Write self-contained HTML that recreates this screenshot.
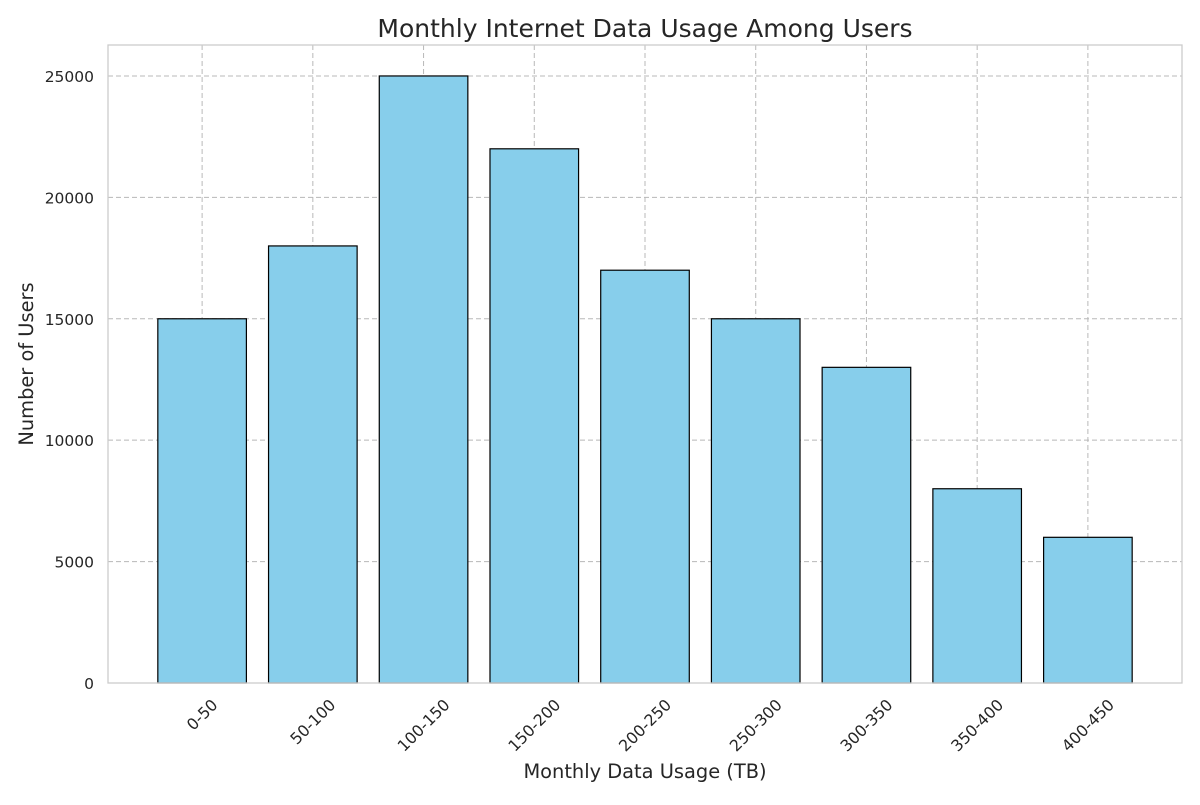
<!DOCTYPE html>
<html><head><meta charset="utf-8"><style>
body{margin:0;background:#fff}
svg text{font-family:"DejaVu Sans","Liberation Sans",sans-serif;fill:#262626}
</style></head><body>
<svg id="chart" width="1200" height="800">
<rect x="0" y="0" width="1200" height="800" fill="#fff"/>
<g id="grid"></g><g id="bars"></g><g id="axes"></g>
<text x="645" y="37" text-anchor="middle" font-size="25">Monthly Internet Data Usage Among Users</text>
<text x="645" y="778" text-anchor="middle" font-size="19.4">Monthly Data Usage (TB)</text>
<text x="33" y="364" text-anchor="middle" font-size="19.4" transform="rotate(-90 33 364)">Number of Users</text>
</svg>
<script>
const categories=["0-50","50-100","100-150","150-200","200-250","250-300","300-350","350-400","400-450"];
const users=[15000,18000,25000,22000,17000,15000,13000,8000,6000];
const yTicks=[0,5000,10000,15000,20000,25000];
const L=108,R=1182,T=45,B=683;
const xMin=-0.85,xMax=categories.length-1+0.85,yMax=26275;
const NS="http://www.w3.org/2000/svg";
function xs(i){return L+(i-xMin)/(xMax-xMin)*(R-L);}
function ys(v){return B-v/yMax*(B-T);}
function mk(tag,attrs,parent){const e=document.createElementNS(NS,tag);for(const k in attrs)e.setAttribute(k,attrs[k]);parent.appendChild(e);return e;}
const grid=document.getElementById('grid'),bars=document.getElementById('bars'),axes=document.getElementById('axes');
yTicks.forEach(t=>{
  const y=ys(t);
  const g=mk('line',{x1:L,x2:R,y1:y,y2:y,stroke:'#b8b8b8','stroke-dasharray':'5,3','stroke-width':1},grid);
  
  
  const tx=mk('text',{x:L-14,y:y+6,'text-anchor':'end','font-size':15.5},axes);
  tx.textContent=t;
  
  
});
categories.forEach((c,i)=>{
  const x=xs(i);
  const g=mk('line',{x1:x,x2:x,y1:T,y2:B,stroke:'#b8b8b8','stroke-dasharray':'5,3','stroke-width':1},grid);
  
  
  const w=(xs(0.4)-xs(-0.4));
  const b=mk('rect',{x:x-w/2,y:ys(users[i]),width:w,height:B-ys(users[i]),fill:'#87ceeb',stroke:'#000','stroke-width':1.2},bars);
  
  
  const tx=mk('text',{x:x,y:0,'text-anchor':'middle','dominant-baseline':'central','font-size':15.8},axes);
  tx.textContent=c;
  const len=tx.getComputedTextLength();
  const half=(len+14)*0.7071/2;
  const cy=697+half;
  tx.setAttribute('y',cy);
  tx.setAttribute('transform','rotate(-45 '+x+' '+cy+')');
  
  
});
const fr=mk('rect',{x:L,y:T,width:R-L,height:B-T,fill:'none',stroke:'#cccccc','stroke-width':1.3},axes);


</script>
</body></html>
